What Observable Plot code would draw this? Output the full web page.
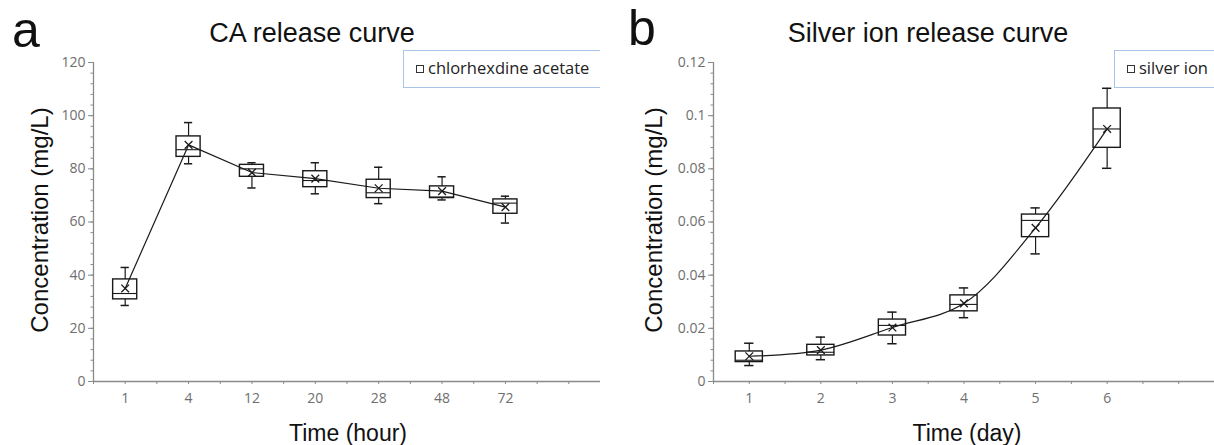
<!DOCTYPE html>
<html>
<head>
<meta charset="utf-8">
<script src="https://cdn.jsdelivr.net/npm/d3@7"></script>
<script src="https://cdn.jsdelivr.net/npm/@observablehq/plot@0.6"></script>
<style>
  html, body { margin: 0; padding: 0; background: #fff; overflow: hidden; }
  #root { position: relative; width: 1214px; height: 445px; overflow: hidden; }
  .panel { position: absolute; top: 0; height: 445px; overflow: hidden; }
  .lbl { position: absolute; white-space: nowrap; line-height: 1; color: #111;
         font-family: "Liberation Sans", Arial, sans-serif; }
  .legend { position: absolute; height: 36px; border: 1.5px solid #a8c4ea; background: #fff;
            font-family: "Open Sans", sans-serif; font-size: 16.5px; color: #222; }
  .legend .sq { position: absolute; left: 12px; top: 14px; width: 6px; height: 6px; border: 1.2px solid #333; }
  .legend .tx { position: absolute; left: 24px; top: 7px; line-height: 20px; }
</style>
</head>
<body>
<div id="root"></div>
<script>
// ---- Panel a: CA release (mg/L) ----
const caTimes  = ["1", "4", "12", "20", "28", "48", "72"];
const caMin    = [28.6, 81.9, 72.8, 70.6, 66.9, 68.3, 59.6];
const caQ1     = [30.9, 84.5, 77.0, 73.1, 69.0, 69.0, 63.1];
const caMedian = [33.1, 87.2, 80.0, 75.6, 71.0, 69.4, 67.1];
const caQ3     = [38.4, 92.2, 81.5, 79.1, 75.9, 73.4, 68.5];
const caMax    = [42.9, 97.4, 82.3, 82.3, 80.6, 77.0, 69.7];
const caMean   = [35.0, 89.0, 78.6, 76.3, 72.7, 71.6, 65.6];
const caYTicks = [0, 20, 40, 60, 80, 100, 120];

// ---- Panel b: silver ion release (mg/L) ----
const agDays   = ["1", "2", "3", "4", "5", "6"];
const agMin    = [0.0060, 0.0082, 0.0142, 0.0240, 0.0480, 0.0802];
const agQ1     = [0.0073, 0.0098, 0.0173, 0.0264, 0.0543, 0.0879];
const agMedian = [0.0080, 0.0110, 0.0211, 0.0290, 0.0606, 0.0950];
const agQ3     = [0.0113, 0.0138, 0.0233, 0.0324, 0.0628, 0.1027];
const agMax    = [0.0144, 0.0167, 0.0261, 0.0352, 0.0653, 0.1103];
const agMean   = [0.0095, 0.0118, 0.0203, 0.0294, 0.0578, 0.0950];
const agYTicks = [0, 0.02, 0.04, 0.06, 0.08, 0.1, 0.12];

const INK = "#1a1a1a";
const AXIS = "#8a8a8a";

function boxPanel({cats, mn, q1, med, q3, mx, mean, yTicks, nBands, width, marginLeft, curve}) {
  const rows = cats.map((c, i) => ({
    c: i + 0.5, l: i + 0.31, r: i + 0.69, cl: i + 0.435, cr: i + 0.565,
    mn: mn[i], q1: q1[i], med: med[i], q3: q3[i], mx: mx[i], mean: mean[i]
  }));
  const yMax = yTicks[yTicks.length - 1];
  const step = yTicks[1] / 5;
  const minor = d3.range(0, Math.round(yMax / step) + 1).map(k => +(k * step).toFixed(6));
  const centers = cats.map((c, i) => i + 0.5);
  const halfTicks = d3.range(0, nBands * 2 + 1).map(k => k / 2);
  return Plot.plot({
    width, height: 445,
    marginLeft, marginRight: 0, marginTop: 62, marginBottom: 64,
    style: {fontFamily: "'Open Sans', sans-serif", fontSize: "14px", color: "#6e6e6e", background: "#fff", overflow: "visible"},
    x: {domain: [0, nBands], axis: null},
    y: {domain: [0, yMax], axis: null},
    marks: [
      Plot.axisY({ticks: minor, tickSize: 2.5, tickFormat: () => "", stroke: AXIS}),
      Plot.axisY({ticks: yTicks, tickSize: 5, tickPadding: 3, stroke: AXIS,
                  tickFormat: d => String(+d.toFixed(3)), label: null}),
      Plot.axisX({ticks: halfTicks, tickSize: 3, tickFormat: () => "", stroke: AXIS, label: null}),
      Plot.axisX({ticks: centers, tickSize: 0, tickPadding: 12, label: null,
                  tickFormat: d => cats[Math.floor(d)]}),
      Plot.ruleX([0], {stroke: AXIS, strokeWidth: 1.3}),
      Plot.ruleY([0], {stroke: AXIS, strokeWidth: 1.3}),
      // whiskers
      Plot.ruleX(rows, {x: "c", y1: "q3", y2: "mx", stroke: INK, strokeWidth: 1.2}),
      Plot.ruleX(rows, {x: "c", y1: "mn", y2: "q1", stroke: INK, strokeWidth: 1.2}),
      Plot.ruleY(rows, {y: "mx", x1: "cl", x2: "cr", stroke: INK, strokeWidth: 1.5}),
      Plot.ruleY(rows, {y: "mn", x1: "cl", x2: "cr", stroke: INK, strokeWidth: 1.5}),
      // boxes
      Plot.rect(rows, {x1: "l", x2: "r", y1: "q1", y2: "q3", fill: "none", stroke: INK, strokeWidth: 1.4}),
      Plot.ruleY(rows, {y: "med", x1: "l", x2: "r", stroke: INK, strokeWidth: 1.1}),
      // mean line and markers
      Plot.line(rows, {x: "c", y: "mean", stroke: INK, strokeWidth: 1.2, curve}),
      Plot.dot(rows, {x: "c", y: "mean", symbol: "times", r: 3.6, stroke: INK, strokeWidth: 1.3})
    ]
  });
}

const root = document.getElementById("root");

function addDiv(parent, cls, css, html) {
  const d = document.createElement("div");
  d.className = cls;
  Object.assign(d.style, css);
  d.innerHTML = html;
  parent.appendChild(d);
  return d;
}
function centered(parent, text, cx, cy, size, rot) {
  return addDiv(parent, "lbl", {
    left: cx + "px", top: cy + "px", fontSize: size + "px",
    transform: "translate(-50%,-50%)" + (rot ? " rotate(-90deg)" : "")
  }, text);
}

// Panel a
const pa = addDiv(root, "panel", {left: "0px", width: "600px"}, "");
pa.appendChild(boxPanel({cats: caTimes, mn: caMin, q1: caQ1, med: caMedian, q3: caQ3, mx: caMax, mean: caMean,
  yTicks: caYTicks, nBands: 8, width: 600, marginLeft: 93, curve: "linear"}));
centered(pa, "a", 26, 30, 50);
centered(pa, "CA release curve", 312, 33, 27);
centered(pa, "Concentration (mg/L)", 40, 220, 24, true);
centered(pa, "Time (hour)", 348, 433, 23);
const la = addDiv(pa, "legend", {left: "403px", top: "50px", width: "240px"}, "");
addDiv(la, "sq", {}, "");
addDiv(la, "tx", {}, "chlorhexdine acetate");

// Panel b
const pb = addDiv(root, "panel", {left: "600px", width: "614px"}, "");
pb.appendChild(boxPanel({cats: agDays, mn: agMin, q1: agQ1, med: agMedian, q3: agQ3, mx: agMax, mean: agMean,
  yTicks: agYTicks, nBands: 7, width: 614, marginLeft: 113, curve: "catmull-rom"}));
centered(pb, "b", 42, 28, 50);
centered(pb, "Silver ion release curve", 328, 33, 27);
centered(pb, "Concentration (mg/L)", 54, 220, 24, true);
centered(pb, "Time (day)", 367, 433, 23);
const lb = addDiv(pb, "legend", {left: "514px", top: "50px", width: "140px"}, "");
addDiv(lb, "sq", {}, "");
addDiv(lb, "tx", {}, "silver ion");
</script>
</body>
</html>
